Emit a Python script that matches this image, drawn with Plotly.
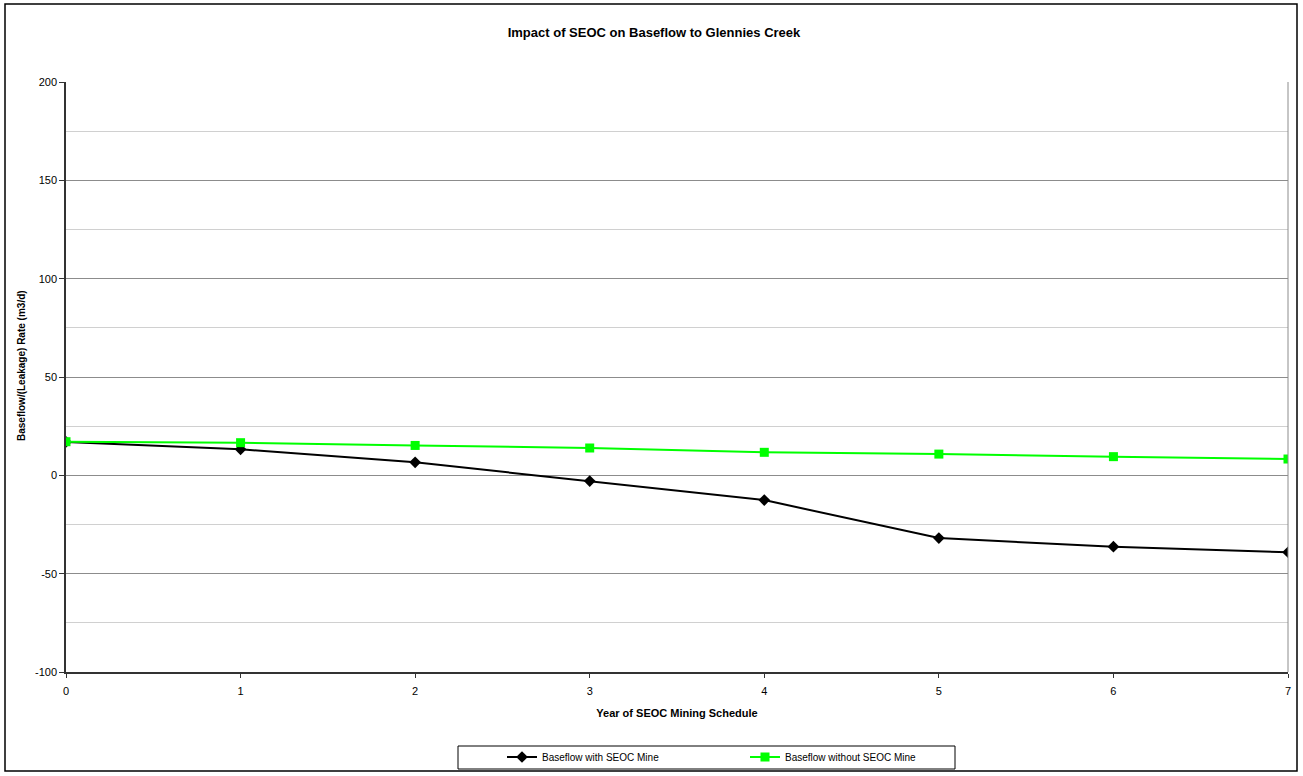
import plotly.graph_objects as go

years = [0, 1, 2, 3, 4, 5, 6, 7]
with_mine = [17.0, 13.2, 6.6, -2.9, -12.6, -31.9, -36.3, -39.1]
without_mine = [17.1, 16.6, 15.2, 13.9, 11.7, 10.8, 9.5, 8.3]
y_ticks = [-100, -50, 0, 50, 100, 150, 200]
y_tick_text = ["-100", "-50", "0", "50", "100", "150", "200"]

W, H = 1303, 776
L, R, T, B = 66, 1288, 82, 672
pw, ph = R - L, B - T

def px(x):
    return (x - L) / pw

def py(y):
    return (B - y) / ph

fig = go.Figure()
fig.add_trace(go.Scatter(
    x=years, y=with_mine, mode="lines+markers", name="Baseflow with SEOC Mine",
    line=dict(color="black", width=2),
    marker=dict(symbol="diamond", size=9, color="black"),
))
fig.add_trace(go.Scatter(
    x=years, y=without_mine, mode="lines+markers", name="Baseflow without SEOC Mine",
    line=dict(color="#00FF00", width=2),
    marker=dict(symbol="square", size=9, color="#00FF00"),
))

font = "Arial, Liberation Sans, sans-serif"
tickfont = dict(family=font, size=11, color="black")
fig.update_layout(
    width=W, height=H,
    margin=dict(l=L, r=W - R, t=T, b=H - B, pad=0, autoexpand=False),
    paper_bgcolor="white", plot_bgcolor="white",
    font=dict(family=font, size=11, color="black"),
    title=dict(text="<b>Impact of SEOC on Baseflow to Glennies Creek</b>",
               x=px(654), xanchor="center", xref="paper",
               y=1 - 32 / H, yanchor="middle", yref="container",
               font=dict(size=13, family=font, color="black")),
    showlegend=True,
    legend=dict(orientation="h", x=px(502), xanchor="left", y=py(757), yanchor="middle",
                bgcolor="rgba(0,0,0,0)", borderwidth=0, font=dict(size=10, family=font, color="black"),
                entrywidth=198, itemwidth=30),
    xaxis=dict(range=[0, 7], tickmode="array", tickvals=years, ticktext=[str(v) for v in years],
               showgrid=False, zeroline=False, showline=True, linecolor="#333333", linewidth=1.5,
               ticks="outside", ticklen=4, tickcolor="#333333", mirror=False, automargin=False,
               ticklabelstandoff=4, tickfont=tickfont,
               title=dict(text="<b>Year of SEOC Mining Schedule</b>",
                          font=dict(size=11, family=font, color="black"), standoff=13),
               fixedrange=True),
    yaxis=dict(range=[-100, 200], tickmode="array", tickvals=y_ticks, ticktext=y_tick_text,
               showgrid=True, gridcolor="#8c8c8c", gridwidth=1, zeroline=False,
               showline=True, linecolor="#333333", linewidth=1.5, automargin=False,
               ticks="outside", ticklen=5, tickcolor="#333333", tickfont=tickfont,
               minor=dict(dtick=25, tick0=0, showgrid=True, gridcolor="#d0d0d0", gridwidth=1, ticks=""),
               fixedrange=True),
    annotations=[
        dict(text="<b>Baseflow/(Leakage) Rate (m3/d)</b>", xref="paper", yref="paper",
             x=px(21), y=py(366), xanchor="center", yanchor="middle", textangle=-90,
             showarrow=False, font=dict(size=10, family=font, color="black")),
    ],
    shapes=[
        dict(type="line", xref="paper", yref="paper", x0=1, x1=1, y0=0, y1=1,
             line=dict(color="#8c8c8c", width=1)),
        dict(type="rect", xref="paper", yref="paper", x0=px(5), x1=px(1297), y0=py(771), y1=py(4),
             line=dict(color="black", width=1.5), fillcolor="rgba(0,0,0,0)", layer="below"),
        dict(type="rect", xref="paper", yref="paper", x0=px(458), x1=px(955), y0=py(769), y1=py(746),
             line=dict(color="black", width=1), fillcolor="rgba(0,0,0,0)", layer="below"),
    ],
)

fig.write_html("out.html", config={"displayModeBar": False},
               post_script="document.body.style.margin='0';")
